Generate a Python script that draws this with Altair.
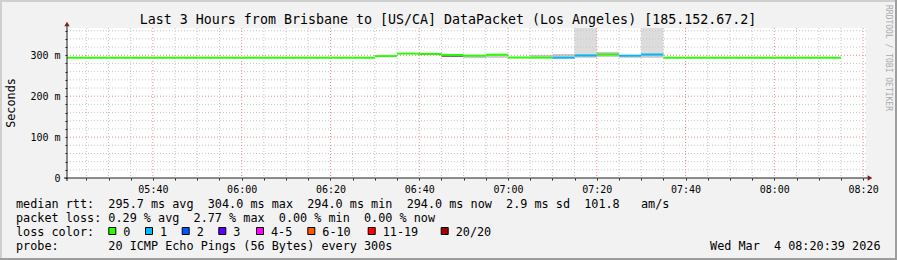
import altair as alt
import pandas as pd

# ---------------- data ----------------
title_text = "Last 3 Hours from Brisbane to [US/CA] DataPacket (Los Angeles) [185.152.67.2]"
window = ["05:20:39", "08:20:39"]
date_text = "Wed Mar  4 08:20:39 2026"

step_start = ["05:20", "05:25", "05:30", "05:35", "05:40", "05:45", "05:50", "05:55",
              "06:00", "06:05", "06:10", "06:15", "06:20", "06:25", "06:30", "06:35",
              "06:40", "06:45", "06:50", "06:55", "07:00", "07:05", "07:10", "07:15",
              "07:20", "07:25", "07:30", "07:35", "07:40", "07:45", "07:50", "07:55",
              "08:00", "08:05", "08:10"]
median_ms = [294, 294, 294, 294, 294, 294, 294, 294,
             294, 294, 294, 294, 294, 294, 298, 304,
             303.5, 301, 299, 301.5, 294.5, 294.2, 294, 299.5,
             302, 299, 302, 294, 294, 294, 294, 294,
             294, 294, 294]
loss_count = [0, 0, 0, 0, 0, 0, 0, 0,
              0, 0, 0, 0, 0, 0, 0, 0,
              0, 0, 0, 0, 0, 0, 1, 1,
              0, 1, 1, 0, 0, 0, 0, 0,
              0, 0, 0]

smoke_start = ["06:50", "06:55", "07:05", "07:10", "07:15", "07:20", "07:25", "07:30"]
smoke_lo = [293, 294, 294, 294, 294, 296, 294, 294]
smoke_hi = [299, 301.5, 301, 303, 303, 308, 299, 303]
dark_start = ["06:40", "06:45"]
dark_lo = [300.7, 296]
dark_hi = [303.5, 301]
tall_start = ["07:15", "07:30"]
tall_lo = [303, 303]
tall_hi = [430, 430]

loss_labels = ["0", "1", "2", "3", "4-5", "6-10", "11-19", "20/20"]
loss_colors = ["#26ff00", "#00b8ff", "#0059ff", "#5e00ff", "#ff00ff", "#ff5500", "#ff0000", "#a00000"]

rtt_stats = [295.7, 304.0, 294.0, 294.0]
rtt_sd = 2.9
rtt_am = 101.8
loss_stats = [0.29, 2.77, 0.00, 0.00]
probe_text = "20 ICMP Echo Pings (56 Bytes) every 300s"

# ---------------- layout ----------------
X0, Y0, W, H = 67, 28, 799, 150
MONO = "DejaVu Sans Mono"
NB = "\u00a0"


def tmin(s):
    p = [int(v) for v in s.split(":")]
    return p[0] * 60 + p[1] + (p[2] / 60.0 if len(p) > 2 else 0.0)


def nb(s):
    return s.replace(" ", NB)


x_dom = [tmin(window[0]), tmin(window[1])]
y_dom = [0, 366.7]
xs = alt.Scale(domain=x_dom, nice=False, zero=False)
ys = alt.Scale(domain=y_dom, nice=False, zero=False)

x_first = (int(x_dom[0]) // 5 + 1) * 5
x_ticks = list(range(x_first, int(x_dom[1]) + 1, 5))
y_ticks = list(range(0, int(y_dom[1]) + 1, 20))

x_axis = alt.Axis(values=x_ticks, grid=False, domain=False, tickSize=2, tickColor="#1f1f1f",
                  labelFont=MONO, labelFontSize=10, labelColor="black", labelPadding=4,
                  labelOverlap=False, labelFlush=False, title=None,
                  labelExpr="datum.value % 20 == 0 ? format(floor(datum.value/60),'02d') + ':' + format(datum.value % 60,'02d') : ''")
y_axis = alt.Axis(values=y_ticks, grid=False, domain=False, tickSize=2, tickColor="#1f1f1f",
                  labelFont=MONO, labelFontSize=10, labelColor="black", labelPadding=5,
                  labelOverlap=False, labelFlush=False, title=None,
                  labelExpr="datum.value % 100 == 0 ? (datum.value == 0 ? '0' : datum.value + ' m') : ''")

steps = pd.DataFrame({
    "t0": [tmin(s) for s in step_start],
    "t1": [tmin(s) + 5 for s in step_start],
    "median": median_ms,
    "loss": [loss_labels[c] for c in loss_count],
})


def band(starts, lo, hi):
    return pd.DataFrame({"t0": [tmin(s) for s in starts],
                         "t1": [tmin(s) + 5 for s in starts],
                         "lo": lo, "hi": hi})


def smoke_layer(df, color):
    return alt.Chart(df).mark_rect(color=color, clip=True).encode(
        x=alt.X("t0:Q", scale=xs, axis=x_axis), x2="t1:Q",
        y=alt.Y("lo:Q", scale=ys, axis=y_axis), y2="hi:Q")


tall = smoke_layer(band(tall_start, tall_lo, tall_hi), "#dcdcdc")
mid = smoke_layer(band(smoke_start, smoke_lo, smoke_hi), "#c8c8c8")
dark = smoke_layer(band(dark_start, dark_lo, dark_hi), "#6a6a6a")

# grid
x_minor = pd.DataFrame({"v": [v for v in x_ticks if v % 20 != 0]})
x_major = pd.DataFrame({"v": [v for v in x_ticks if v % 20 == 0]})
y_minor = pd.DataFrame({"v": [v for v in y_ticks if v % 100 != 0]})
y_major = pd.DataFrame({"v": [v for v in y_ticks if v % 100 == 0 and v > 0]})

GMIN, GMAJ = "#c4c4c4", "#e88e8e"


def vgrid(df, color):
    return alt.Chart(df).mark_rule(color=color, strokeDash=[1, 2], strokeWidth=1).encode(
        x=alt.X("v:Q", scale=xs, axis=x_axis), y=alt.value(0), y2=alt.value(H))


def hgrid(df, color):
    return alt.Chart(df).mark_rule(color=color, strokeDash=[1, 2], strokeWidth=1).encode(
        y=alt.Y("v:Q", scale=ys, axis=y_axis), x=alt.value(0), x2=alt.value(W))


median = alt.Chart(steps).mark_rule(strokeWidth=2, strokeCap="butt", clip=True).encode(
    x=alt.X("t0:Q", scale=xs, axis=x_axis), x2="t1:Q",
    y=alt.Y("median:Q", scale=ys, axis=y_axis),
    color=alt.Color("loss:N", scale=alt.Scale(domain=loss_labels, range=loss_colors), legend=None))

dummy = pd.DataFrame({"a": [0]})
AXC, ARC = "#1f1f1f", "#7f1f1f"
yaxis_line = alt.Chart(dummy).mark_rule(color=AXC, strokeWidth=1).encode(
    x=alt.value(0), y=alt.value(H + 3), y2=alt.value(-4))
xaxis_line = alt.Chart(dummy).mark_rule(color=AXC, strokeWidth=1).encode(
    x=alt.value(-3), x2=alt.value(W + 3), y=alt.value(H))
arrow_up = alt.Chart(dummy).mark_point(shape="triangle-up", filled=True, color=ARC, size=28, opacity=1).encode(
    x=alt.value(0), y=alt.value(-4))
arrow_right = alt.Chart(dummy).mark_point(shape="triangle-right", filled=True, color=ARC, size=28, opacity=1).encode(
    x=alt.value(W + 4), y=alt.value(H))


def txt(s, x, y, size=11.8, align="left", angle=0, color="black", baseline="alphabetic"):
    return alt.Chart(pd.DataFrame({"t": [nb(s)]})).mark_text(
        align=align, baseline=baseline, font=MONO, fontSize=size, angle=angle, color=color).encode(
        x=alt.value(x - X0), y=alt.value(y - Y0), text="t:N")


line1 = ("median rtt:  %.1f ms avg  %.1f ms max  %.1f ms min  %.1f ms now  %.1f ms sd  %.1f   am/s"
         % (rtt_stats[0], rtt_stats[1], rtt_stats[2], rtt_stats[3], rtt_sd, rtt_am))
line2 = ("packet loss: %.2f %% avg  %.2f %% max  %.2f %% min  %.2f %% now"
         % (loss_stats[0], loss_stats[1], loss_stats[2], loss_stats[3]))
line4 = "probe:       " + probe_text

texts = [
    txt(title_text, 448, 24, size=13.3, align="center"),
    txt("Seconds", 11, 103, size=11.8, align="center", angle=270, baseline="middle"),
    txt("RRDTOOL / TOBI OETIKER", 887.5, 58, size=8, align="center", angle=90, color="#aaaaaa", baseline="middle"),
    txt(line1, 16, 207.7),
    txt(line2, 16, 221.9),
    txt("loss color:", 16, 236),
    txt(line4, 16, 250.3),
    txt(date_text, 880.5, 250.3, align="right"),
]

box_left = [108.3, 145, 181.7, 218.3, 256, 307.3, 367.7, 440.7]
boxes = pd.DataFrame({"x": [b + 4 - X0 for b in box_left], "c": loss_colors,
                      "lx": [b + 15 - X0 for b in box_left], "lab": loss_labels})
box_marks = alt.Chart(boxes).mark_square(size=49, filled=True, stroke="black", strokeWidth=1, opacity=1).encode(
    x=alt.X("x:Q", scale=None), y=alt.value(231 - Y0), fill=alt.Color("c:N", scale=None))
box_labels = alt.Chart(boxes).mark_text(align="left", baseline="alphabetic", font=MONO, fontSize=11.8, color="black").encode(
    x=alt.X("lx:Q", scale=None), y=alt.value(236 - Y0), text="lab:N")

SA, SB = "#cfcfcf", "#9e9e9e"
border = [
    alt.Chart(dummy).mark_rule(color=SA, strokeWidth=2).encode(x=alt.value(-X0), x2=alt.value(897 - X0), y=alt.value(1 - Y0)),
    alt.Chart(dummy).mark_rule(color=SA, strokeWidth=2).encode(x=alt.value(1 - X0), y=alt.value(-Y0), y2=alt.value(260 - Y0)),
    alt.Chart(dummy).mark_rule(color=SB, strokeWidth=2).encode(x=alt.value(-X0), x2=alt.value(897 - X0), y=alt.value(259 - Y0)),
    alt.Chart(dummy).mark_rule(color=SB, strokeWidth=2).encode(x=alt.value(896 - X0), y=alt.value(-Y0), y2=alt.value(260 - Y0)),
]

chart = alt.layer(
    tall, mid, dark,
    vgrid(x_minor, GMIN), hgrid(y_minor, GMIN), vgrid(x_major, GMAJ), hgrid(y_major, GMAJ),
    median, yaxis_line, xaxis_line, arrow_up, arrow_right,
    *texts, box_marks, box_labels, *border
).properties(
    width=W, height=H,
    autosize=alt.AutoSizeParams(type="none"),
    padding={"left": X0, "top": Y0, "right": 897 - X0 - W, "bottom": 260 - Y0 - H},
    background="#f2f2f2",
).configure_view(fill="white", stroke=None)

chart.save("out.html", embed_options={"renderer": "svg", "actions": False})
